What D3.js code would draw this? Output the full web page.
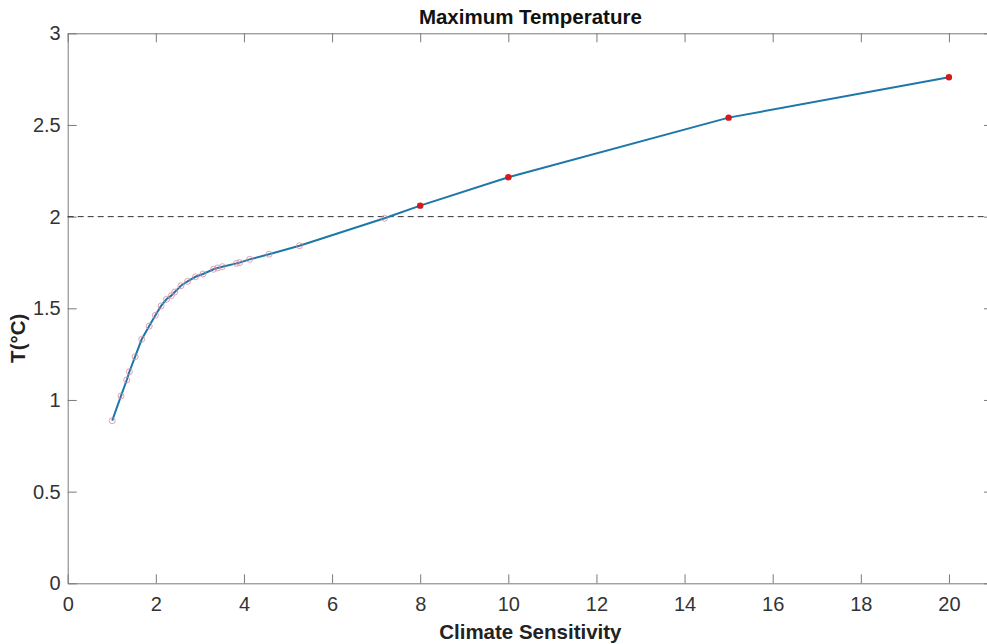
<!DOCTYPE html>
<html>
<head>
<meta charset="utf-8">
<script src="https://cdn.jsdelivr.net/npm/d3@7"></script>
<style>
  body { margin: 0; background: #fff; }
  svg { display: block; font-family: "Liberation Sans", Arial, sans-serif; }
</style>
</head>
<body>
<svg id="chart" width="987" height="644"></svg>
<script>
// climate sensitivity samples (open circles) and their max temperature
const sensX = [1.01, 1.21, 1.34, 1.40, 1.53, 1.68, 1.85, 1.99, 2.12, 2.24, 2.35, 2.43, 2.57,
               2.72, 2.90, 3.07, 3.31, 3.40, 3.51, 3.83, 3.90, 4.13, 4.57, 5.26, 7.19]
const tempY = [0.887, 1.022, 1.109, 1.154, 1.236, 1.331, 1.403, 1.462, 1.513, 1.549, 1.569, 1.589, 1.623,
               1.647, 1.672, 1.687, 1.713, 1.720, 1.727, 1.745, 1.749, 1.767, 1.795, 1.841, 1.991]
// highlighted points (filled red)
const redX = [8, 10, 15, 20]
const redY = [2.06, 2.215, 2.54, 2.76]
const threshold = 2
const xTicks = [0, 2, 4, 6, 8, 10, 12, 14, 16, 18, 20]
const yTicks = [0, 0.5, 1, 1.5, 2, 2.5, 3]

const svg = d3.select('#chart')
const plotL = 67.7, plotR = 993, plotT = 33.3, plotB = 583.3

const x = d3.scaleLinear().domain([0, 21]).range([plotL, plotR])
const y = d3.scaleLinear().domain([0, 3]).range([plotB, plotT])

const small = sensX.map((v, i) => ({x: v, y: tempY[i]}))
const big = redX.map((v, i) => ({x: v, y: redY[i]}))
const all = small.concat(big)

const axisColor = '#7a7a7a'
const tickLen = 9

// bottom axis
svg.append('g')
    .attr('transform', `translate(0,${plotB})`)
    .call(d3.axisBottom(x).tickValues(xTicks).tickSize(-tickLen).tickPadding(14).tickSizeOuter(0))
    .call(g => g.select('.domain').attr('stroke', axisColor))
    .call(g => g.selectAll('.tick line').attr('stroke', axisColor))
    .call(g => g.selectAll('.tick text').attr('fill', '#333').style('font-size', '20px'))
// top axis
svg.append('g')
    .attr('transform', `translate(0,${plotT})`)
    .call(d3.axisTop(x).tickValues(xTicks).tickSize(-tickLen).tickFormat('').tickSizeOuter(0))
    .call(g => g.select('.domain').attr('stroke', axisColor))
    .call(g => g.selectAll('.tick line').attr('stroke', axisColor))
// left axis
svg.append('g')
    .attr('transform', `translate(${plotL},0)`)
    .call(d3.axisLeft(y).tickValues(yTicks).tickSize(-tickLen).tickPadding(7).tickSizeOuter(0).tickFormat(d3.format('')))
    .call(g => g.select('.domain').attr('stroke', axisColor))
    .call(g => g.selectAll('.tick line').attr('stroke', axisColor))
    .call(g => g.selectAll('.tick text').attr('fill', '#333').style('font-size', '20px'))
// right axis
svg.append('g')
    .attr('transform', `translate(${plotR},0)`)
    .call(d3.axisRight(y).tickValues(yTicks).tickSize(-tickLen).tickFormat('').tickSizeOuter(0))
    .call(g => g.select('.domain').attr('stroke', axisColor))
    .call(g => g.selectAll('.tick line').attr('stroke', axisColor))

// 2 degree threshold
svg.append('line')
    .attr('x1', x(0)).attr('x2', plotR)
    .attr('y1', y(threshold)).attr('y2', y(threshold))
    .attr('stroke', '#333')
    .attr('stroke-width', 1)
    .attr('stroke-dasharray', '6,4')

// curve
svg.append('path')
    .datum(all)
    .attr('fill', 'none')
    .attr('stroke', '#1d77a8')
    .attr('stroke-width', 2)
    .attr('d', d3.line().x(d => x(d.x)).y(d => y(d.y)))

svg.selectAll('circle.small')
    .data(small)
    .enter()
    .append('circle')
    .attr('class', 'small')
    .attr('cx', d => x(d.x))
    .attr('cy', d => y(d.y))
    .attr('r', 3)
    .attr('fill', 'none')
    .attr('stroke', '#d98a9e')
    .attr('stroke-opacity', 0.8)
    .attr('stroke-width', 1)

svg.selectAll('circle.big')
    .data(big)
    .enter()
    .append('circle')
    .attr('class', 'big')
    .attr('cx', d => x(d.x))
    .attr('cy', d => y(d.y))
    .attr('r', 3.2)
    .attr('fill', '#d7191c')

// titles
svg.append('text')
    .attr('x', (plotL + plotR) / 2).attr('y', 24)
    .attr('text-anchor', 'middle')
    .style('font-size', '20.5px').style('font-weight', 'bold')
    .attr('fill', '#111')
    .text('Maximum Temperature')
svg.append('text')
    .attr('x', (plotL + plotR) / 2).attr('y', 639)
    .attr('text-anchor', 'middle')
    .style('font-size', '20.5px').style('font-weight', 'bold')
    .attr('fill', '#222')
    .text('Climate Sensitivity')
svg.append('text')
    .attr('transform', `translate(25,${(plotT + plotB) / 2 + 30}) rotate(-90)`)
    .attr('text-anchor', 'middle')
    .style('font-size', '20.5px').style('font-weight', 'bold')
    .attr('fill', '#222')
    .text('T(°C)')
</script>
</body>
</html>
